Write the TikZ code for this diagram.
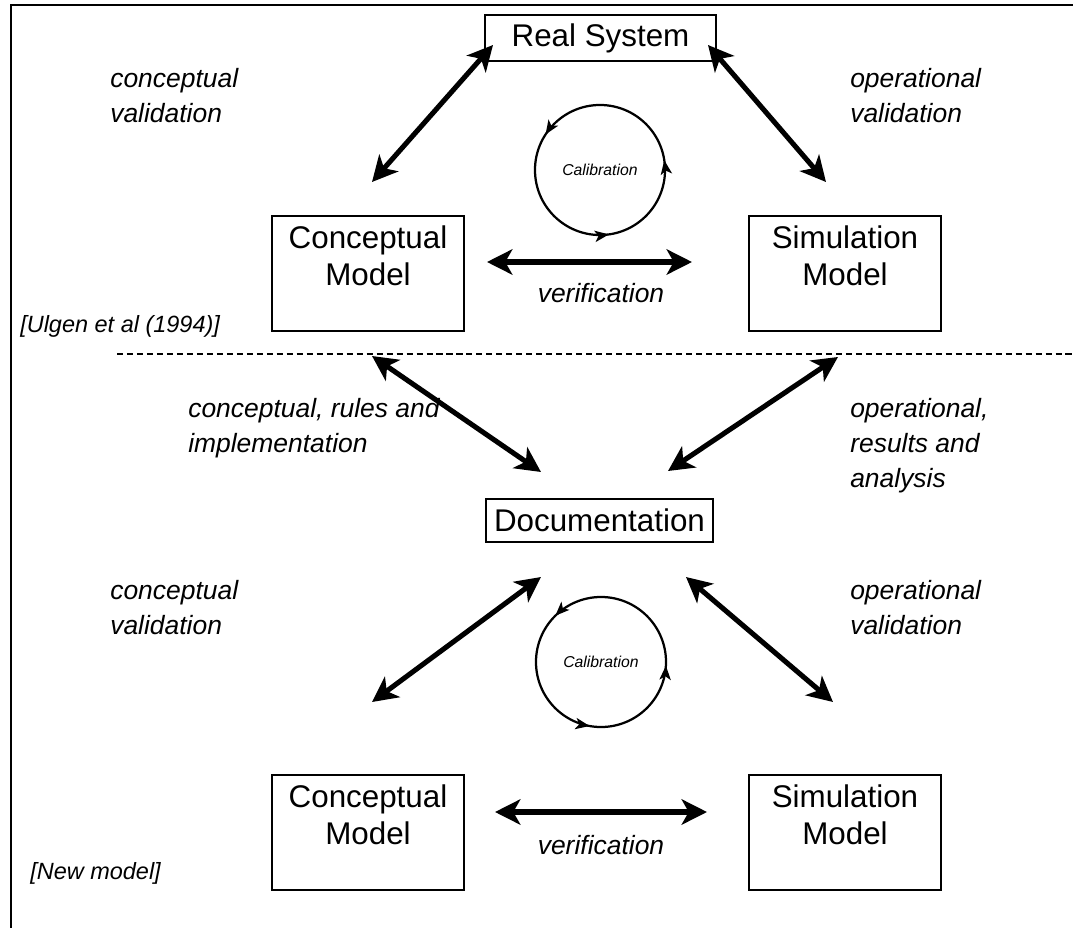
\documentclass[tikz,border=0pt]{standalone}
\usepackage{fontspec}
\setmainfont{Liberation Sans}
\usetikzlibrary{arrows.meta,decorations.markings}

\tikzset{ctip/.tip={Stealth[length=10pt, width=8pt, inset=2.5pt]}}

\begin{document}
\begin{tikzpicture}[
  x=0.025cm, y=-0.025cm,
  box/.style={draw, line width=1.6pt, inner sep=0pt},
  boxtext/.style={inner sep=0pt, align=center, anchor=north,
    font=\fontsize{22.3}{27}\selectfont},
  lbl/.style={inner sep=0pt, align=left, anchor=north west,
    font=\fontsize{18.8}{24.9}\selectfont\itshape},
  note/.style={inner sep=0pt, anchor=west,
    font=\fontsize{16.7}{20}\selectfont\itshape},
  calibtext/.style={inner sep=0pt, font=\fontsize{11.2}{13}\selectfont\itshape},
  vertext/.style={inner sep=0pt, font=\fontsize{18.8}{24.9}\selectfont\itshape},
  dbl/.style={line width=3.6pt,
    {Stealth[length=18pt, width=18pt, inset=5pt]}-{Stealth[length=18pt, width=18pt, inset=5pt]}},
  calib/.style={line width=1.6pt, postaction={decorate}},
]
\useasboundingbox (0,0) rectangle (1073,928);

% frame on the left and top edges
\draw[line width=1.1pt] (11,928) -- (11,5) -- (1073,5);

% ---------- upper model ----------
\node[box, minimum width=5.775cm, minimum height=1.15cm,
      font=\fontsize{22.3}{27}\selectfont] (real) at (600.5,38) {Real System};

\node[box, minimum width=4.8cm, minimum height=2.875cm] (cm1) at (368,273.5) {};
\node[boxtext] (cm1t) at (368,225) {Conceptual\\Model};
\node[box, minimum width=4.8cm, minimum height=2.875cm] (sm1) at (845,273.5) {};
\node[boxtext] (sm1t) at (845,225) {Simulation\\Model};

\coordinate (a1s) at (372,182); \coordinate (a1e) at (493,45);
\coordinate (a2s) at (708,45);  \coordinate (a2e) at (826,182);
\coordinate (v1s) at (487,262); \coordinate (v1e) at (692,262);
\draw[dbl] (a1s) -- (a1e);
\draw[dbl] (a2s) -- (a2e);
\draw[dbl] (v1s) -- (v1e);

\node[lbl] (lcv1) at (110,68) {conceptual\\validation};
\node[lbl] (lov1) at (850,68) {operational\\validation};
\node[vertext] (ver1) at (601,293) {verification};

\node[calibtext] (cal1) at (600,170) {Calibration};
\draw[calib, decoration={markings,
    mark=at position 0.024 with {\arrow{ctip}},
    mark=at position 0.408 with {\arrow{ctip}},
    mark=at position 0.772 with {\arrow{ctip}}}]
  (cal1.center) circle [radius=1.625cm];

\node[note] (ulgen) at (20,326) {[Ulgen et al (1994)]};

% separator
\draw[line width=1.5pt, dash pattern=on 4.3pt off 2.8pt] (117,354) -- (1073,354);

% ---------- documentation link ----------
\node[box, minimum width=5.675cm, minimum height=1.075cm,
      font=\fontsize{22.3}{27}\selectfont] (doc) at (599.5,520.5) {Documentation};

\coordinate (b1s) at (372,356); \coordinate (b1e) at (541,472);
\coordinate (b2s) at (838,357); \coordinate (b2e) at (668,471);
\draw[dbl] (b1s) -- (b1e);
\draw[dbl] (b2s) -- (b2e);

\node[lbl] (lcri) at (188,398) {conceptual, rules and\\implementation};
\node[lbl] (lora) at (850,398) {operational,\\results and\\analysis};

% ---------- lower model ----------
\node[box, minimum width=4.8cm, minimum height=2.875cm] (cm2) at (368,832.5) {};
\node[boxtext] (cm2t) at (368,784) {Conceptual\\Model};
\node[box, minimum width=4.8cm, minimum height=2.875cm] (sm2) at (845,832.5) {};
\node[boxtext] (sm2t) at (845,784) {Simulation\\Model};

\coordinate (c1s) at (541,577); \coordinate (c1e) at (372,702);
\coordinate (c2s) at (686,577); \coordinate (c2e) at (833,702);
\coordinate (v2s) at (495,812); \coordinate (v2e) at (707,812);
\draw[dbl] (c1s) -- (c1e);
\draw[dbl] (c2s) -- (c2e);
\draw[dbl] (v2s) -- (v2e);

\node[lbl] (lcv2) at (110,580) {conceptual\\validation};
\node[lbl] (lov2) at (850,580) {operational\\validation};
\node[vertext] (ver2) at (601,845) {verification};

\node[calibtext] (cal2) at (601,662) {Calibration};
\draw[calib, decoration={markings,
    mark=at position 0.374 with {\arrow{ctip}},
    mark=at position 0.722 with {\arrow{ctip}},
    mark=at position 0.991 with {\arrow{ctip}}}]
  (cal2.center) circle [radius=1.625cm];

\node[note] (newm) at (30,873) {[New model]};
\end{tikzpicture}
\end{document}
